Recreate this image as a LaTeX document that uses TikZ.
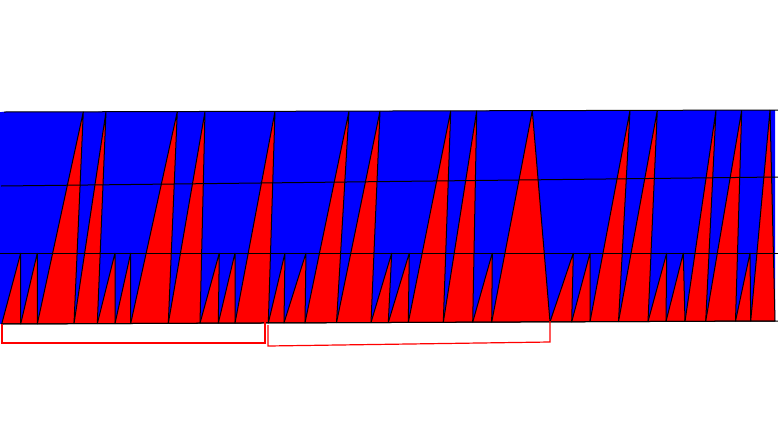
\documentclass[tikz,border=0pt]{standalone}
\usepackage{tikz}
\definecolor{sawblue}{RGB}{0,0,255}
\definecolor{sawred}{RGB}{255,0,0}

\begin{document}
\begin{tikzpicture}[
    x=0.75pt, y=-0.75pt,
    field/.style={fill=sawblue, draw=none},
    tooth/.style={fill=sawred, draw=black, line width=0.75pt, line join=bevel},
    level/.style={draw=black, line width=0.75pt},
    brace/.style={draw=sawred, line width=0.9pt},
]
  \useasboundingbox (0,0) rectangle (778,436);

  % Background field
  \fill[field] (0,112) -- (775,110) -- (775,321) -- (0,324) -- cycle;

  % Teeth: start / apex x / tall? / foot
  \foreach \a/\p/\t/\b in {
      1.7/20.7/0/20.7, 20.7/37.3/0/37.3, 37.3/83.3/1/74, 74/106/1/97.3,
      97.3/115/0/115, 115/130.7/0/130.7, 130.7/177.3/1/168.3, 168.3/205/1/200,
      200/219.3/0/218.3, 218.3/235/0/235, 235/275/1/268.3, 268.3/285/0/284,
      284/306/0/305, 305/349/1/336.5, 336.5/380/1/371, 371/391.7/0/388.3,
      388.3/409.3/0/408.3, 408.3/450.7/1/443.3, 443.3/476.7/1/472.7,
      472.7/492.3/0/491.7, 491.7/532.3/1/550, 550/573.3/0/571.7,
      571.7/590/0/590, 590/630/1/618.5, 618.5/657.3/1/648, 648/666.7/0/666,
      666/683.3/0/685, 685/716/1/705.7, 705.7/741.7/1/735.5,
      735.5/750/0/750.7, 750.7/770/1/775}{
    \pgfmathsetmacro\ya{324-0.00386*\a}
    \pgfmathsetmacro\yb{324-0.00386*\b}
    \pgfmathsetmacro\yp{\t ? 112-0.00257*\p : 253}
    \filldraw[tooth] (\a,\ya) -- (\p,\yp) -- (\b,\yb) -- cycle;
  }

  % Levels
  \draw[level] (4,112) -- (778,110);
  \draw[level] (1,186) -- (778,177);
  \draw[level] (0,253) -- (778,253);
  \draw[level] (1.7,324) -- (778,321);

  % Brackets
  \draw[brace] (2,324) -- (2,343) -- (265,343) -- (265,322);
  \draw[brace] (268,325) -- (268,346) -- (550,342) -- (550,321);
\end{tikzpicture}
\end{document}
